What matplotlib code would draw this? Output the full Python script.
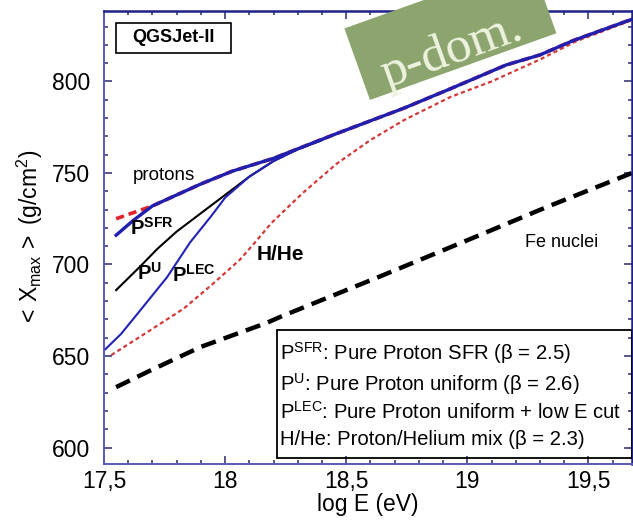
import numpy as np
import matplotlib
matplotlib.use("Agg")
import matplotlib.pyplot as plt
from matplotlib.patches import Rectangle
from matplotlib.ticker import MultipleLocator, FixedLocator, FixedFormatter

plt.rcParams['font.family'] = ['Liberation Sans', 'DejaVu Sans']
plt.rcParams['mathtext.fontset'] = 'custom'
plt.rcParams['mathtext.rm'] = 'Liberation Sans'
plt.rcParams['mathtext.it'] = 'Liberation Sans:italic'
plt.rcParams['mathtext.bf'] = 'Liberation Sans:bold'
plt.rcParams['lines.scale_dashes'] = False

# ---------------------------------------------------------------
# data
protons_x = [17.55, 17.7, 17.9, 18.03, 18.2, 18.46, 18.74, 18.93, 19.16, 19.3, 19.44, 19.68]
protons_y = [725, 732, 744, 751, 758, 771.5, 785.5, 796, 809, 814.5, 822.5, 834]

sfr_x = [17.55, 17.62, 17.7, 17.9, 18.03, 18.2, 18.46, 18.74, 18.93, 19.16, 19.3, 19.44, 19.68]
sfr_y = [716, 724, 732, 744, 751, 758, 771.5, 785.5, 796, 809, 814.5, 822.5, 834]

pu_x = [17.55, 17.65, 17.72, 17.8, 17.9, 18.0, 18.1, 18.2, 18.3, 18.4]
pu_y = [686, 699, 708.5, 718, 728, 738, 748, 756.5, 763, 768]

lec_x = [17.5, 17.57, 17.65, 17.76, 17.855, 17.94, 18.0, 18.1, 18.2, 18.3, 18.4]
lec_y = [653, 662, 675, 693, 712, 726, 736.5, 748, 756.5, 763, 768]

hhe_x = [17.53, 17.69, 17.83, 17.95, 18.06, 18.12, 18.19, 18.32, 18.46, 18.6, 18.74,
         18.93, 19.1, 19.3, 19.45, 19.68]
hhe_y = [650.5, 664, 676, 689.5, 702.5, 711.5, 722.5, 739, 755, 768, 779,
         791.5, 800, 812, 822, 833.5]

fe_x = [17.55, 17.69, 17.9, 18.17, 18.23, 18.64, 19.05, 19.33, 19.68]
fe_y = [633, 642, 655, 668, 671.5, 693.5, 716, 731.5, 750]

xtick_vals = [17.5, 18.0, 18.5, 19.0, 19.5]
xtick_labels = ['17,5', '18', '18,5', '19', '19,5']

legend_lines = [r'P$^{\rm SFR}$: Pure Proton SFR (β = 2.5)',
                r'P$^{\rm U}$: Pure Proton uniform (β = 2.6)',
                r'P$^{\rm LEC}$: Pure Proton uniform + low E cut',
                r'H/He: Proton/Helium mix (β = 2.3)']

# ---------------------------------------------------------------
fig = plt.figure(figsize=(6.33, 5.22), dpi=100)
ax = fig.add_axes([104/633, 58/522, 528/633, 453/522])

#Fe nuclei
ax.plot(fe_x, fe_y, color='black', lw=3.2, dashes=(11, 6))
#H/He mix
ax.plot(hhe_x, hhe_y, color='#d23a3a', lw=1.6, dashes=(3, 2.2))
#pure protons
ax.plot(protons_x, protons_y, color='#e3242b', lw=2.6, dashes=(6, 3.5))
#P^U
ax.plot(pu_x, pu_y, color='black', lw=1.5)
#P^LEC
ax.plot(lec_x, lec_y, color='#2222b4', lw=1.5)
#P^SFR
ax.plot(sfr_x, sfr_y, color='#2020b0', lw=2.4)

ax.set_xlim(17.5, 19.68)
ax.set_ylim(591, 838.5)

ax.xaxis.set_major_locator(FixedLocator(xtick_vals))
ax.xaxis.set_major_formatter(FixedFormatter(xtick_labels))
ax.xaxis.set_minor_locator(MultipleLocator(0.1))
ax.yaxis.set_major_locator(MultipleLocator(50))
ax.yaxis.set_minor_locator(MultipleLocator(10))

ax.tick_params(which='both', direction='in', top=True, right=True,
               color='#2a2a6a', width=1.1)
ax.tick_params(which='major', length=5.5, labelsize=16.5)
ax.tick_params(which='minor', length=3)
ax.tick_params(axis='x', pad=4)
ax.tick_params(axis='y', pad=10)

for side in ['top', 'right']:
    ax.spines[side].set_color('#20208a')
    ax.spines[side].set_linewidth(1.8)
for side in ['left', 'bottom']:
    ax.spines[side].set_color('#5a5ab4')
    ax.spines[side].set_linewidth(1.4)

ax.set_xlabel('log E (eV)', fontsize=16.5, labelpad=0)
ax.set_ylabel(r'$<\,$X$_{\rm max}$$\,>$ (g/cm$^2$)', fontsize=16.5, labelpad=5)

#curve labels
ax.text(17.62, 746, 'protons', fontsize=13.5, va='baseline')
ax.text(17.607, 716, r'$\mathbf{P}^{\mathbf{SFR}}$', fontsize=14.5, va='baseline')
ax.text(17.635, 691.5, r'$\mathbf{P}^{\mathbf{U}}$', fontsize=14.5, va='baseline')
ax.text(17.78, 690.6, r'$\mathbf{P}^{\mathbf{LEC}}$', fontsize=14.5, va='baseline')
ax.text(18.131, 702.5, 'H/He', fontsize=15, fontweight='bold', va='baseline')
ax.text(19.24, 709.4, 'Fe nuclei', fontsize=13, va='baseline')

#model box
ax.add_patch(Rectangle((0.0227, 0.9073), 0.2178, 0.0662, transform=ax.transAxes,
                       fill=False, edgecolor='black', lw=1.2))
ax.text(0.1316, 0.9404, 'QGSJet-II', transform=ax.transAxes, fontsize=13,
        fontweight='bold', ha='center', va='center')

#legend box
ax.add_patch(Rectangle((0.327, 0.0132), 0.673, 0.2826, transform=ax.transAxes,
                       fill=False, edgecolor='black', lw=1.3, zorder=5))
legend_y = [647.8, 630.9, 615.6, 601.4]
for txt, yy in zip(legend_lines, legend_y):
    ax.text(18.227, yy, txt, fontsize=14.6, va='baseline', zorder=6)

#p-dom. sticker
fig.add_artist(Rectangle((3.70, 4.22), 1.98, 0.76, angle=19.7,
                         transform=fig.dpi_scale_trans, facecolor='#8ca56e',
                         edgecolor='none', zorder=10))
fig.text(4.52, 4.71, 'p-dom.', transform=fig.dpi_scale_trans, rotation=19.7,
         rotation_mode='anchor', ha='center', va='center', fontsize=37,
         family='Liberation Serif', color='#eef3e0', zorder=11)

fig.savefig('out.png', dpi=100)
